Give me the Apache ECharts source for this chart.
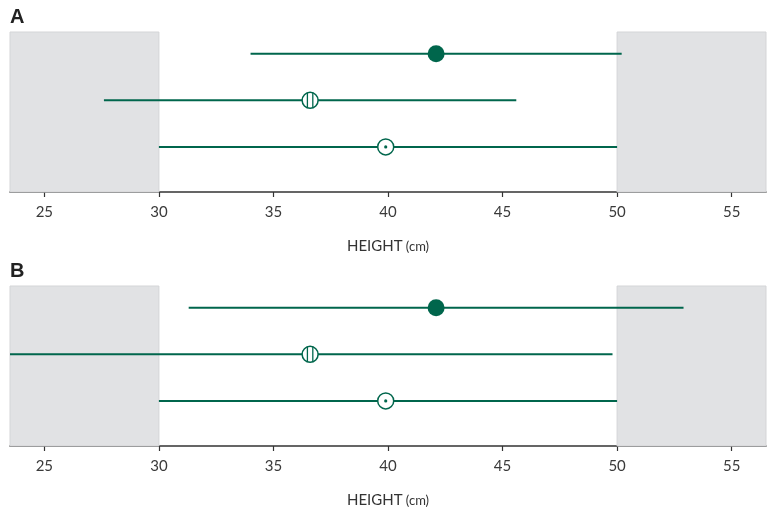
<!DOCTYPE html>
<html>
<head>
<meta charset="utf-8">
<script src="https://cdn.jsdelivr.net/npm/echarts@6/dist/echarts.min.js"></script>
<style>html,body{margin:0;padding:0;background:#fff}#c{width:771px;height:512px}</style>
</head>
<body>
<div id="c"></div>
<script>
// ---- data ----
const panelTitles = ['A', 'B'];
const rowY = [3, 2, 1];                 // row positions (top to bottom)
const markerTypes = ['filled', 'striped', 'dotted'];
const pointsA = [42.1, 36.6, 39.9];
const lowerA = [34.0, 27.6, 30.0];
const upperA = [50.2, 45.6, 50.0];
const pointsB = [42.1, 36.6, 39.9];
const lowerB = [31.3, 22.0, 30.0];
const upperB = [52.9, 49.8, 50.0];
const shadedRanges = [[23.5, 30], [50, 56.5]];
const tickValues = [25, 30, 35, 40, 45, 50, 55];
const xMin = 23.5, xMax = 56.5;
const axisTitle = 'HEIGHT';
const axisUnit = '(cm)';

const GREEN = '#00664c';

function buildData(points, lower, upper) {
  return points.map((p, i) => [p, rowY[i], lower[i], upper[i], i]);
}

function renderItem(params, api) {
  const y = api.value(1);
  const p = api.coord([api.value(0), y]);
  const l = api.coord([api.value(2), y]);
  const u = api.coord([api.value(3), y]);
  const type = markerTypes[api.value(4)];
  const children = [{
    type: 'line',
    shape: { x1: l[0], y1: l[1], x2: u[0], y2: u[1] },
    style: { stroke: GREEN, lineWidth: 2 }
  }];
  if (type === 'filled') {
    children.push({ type: 'circle', shape: { cx: p[0], cy: p[1], r: 8.5 }, style: { fill: GREEN } });
  } else {
    const r = 8;
    children.push({ type: 'circle', shape: { cx: p[0], cy: p[1], r: r }, style: { fill: '#fff', stroke: GREEN, lineWidth: 1.5 } });
    if (type === 'striped') {
      [-2.7, 2.7].forEach(dx => {
        const h = Math.sqrt(r * r - dx * dx);
        children.push({ type: 'line', shape: { x1: p[0] + dx, y1: p[1] - h, x2: p[0] + dx, y2: p[1] + h }, style: { stroke: GREEN, lineWidth: 1.3 } });
      });
    } else {
      children.push({ type: 'circle', shape: { cx: p[0], cy: p[1], r: 1.6 }, style: { fill: GREEN } });
    }
  }
  return { type: 'group', children: children };
}

const gridTops = [32, 286];
const grids = gridTops.map(t => ({ left: 10, right: 5, top: t, height: 160 }));

const xAxes = [0, 1].map(i => ({
  type: 'value', gridIndex: i, min: xMin, max: xMax,
  splitLine: { show: false },
  axisLine: { show: true, lineStyle: { color: '#333', width: 1.5 } },
  axisTick: { show: true, length: 5, customValues: tickValues, lineStyle: { color: '#333', width: 1.2 } },
  axisLabel: { customValues: tickValues, margin: 13, fontFamily: 'Lato', fontSize: 15, color: '#3a3a3a' },
  name: '{a|' + axisTitle + '} {b|' + axisUnit + '}',
  nameLocation: 'middle', nameGap: 47,
  nameTextStyle: {
    rich: {
      a: { fontFamily: 'Lato', fontSize: 15, color: '#333' },
      b: { fontFamily: 'Lato', fontSize: 13, color: '#333' }
    }
  }
}));

const yAxes = [0, 1].map(i => ({
  type: 'value', gridIndex: i, min: 0.03, max: 3.47, show: false
}));

const series = [];
[0, 1].forEach(i => {
  series.push({
    type: 'line', xAxisIndex: i, yAxisIndex: i, data: [], silent: true, z: 1,
    markArea: {
      silent: true,
      itemStyle: { color: '#e1e2e4', borderColor: '#d4d5d7', borderWidth: 1 },
      data: shadedRanges.map(r => [{ xAxis: r[0] }, { xAxis: r[1] }])
    }
  });
});
series.push({
  type: 'custom', xAxisIndex: 0, yAxisIndex: 0, clip: true, z: 3,
  renderItem: renderItem, data: buildData(pointsA, lowerA, upperA)
});
series.push({
  type: 'custom', xAxisIndex: 1, yAxisIndex: 1, clip: true, z: 3,
  renderItem: renderItem, data: buildData(pointsB, lowerB, upperB)
});

const chart = echarts.init(document.getElementById('c'), null, { renderer: 'canvas' });
chart.setOption({
  animation: false,
  backgroundColor: '#fff',
  title: panelTitles.map((t, i) => ({
    text: t, left: 5, top: [2, 256][i],
    textStyle: { fontFamily: 'Liberation Sans', fontWeight: 'bold', fontSize: 20, color: '#222' }
  })),
  grid: grids,
  xAxis: xAxes,
  yAxis: yAxes,
  series: series
});
</script>
</body>
</html>
